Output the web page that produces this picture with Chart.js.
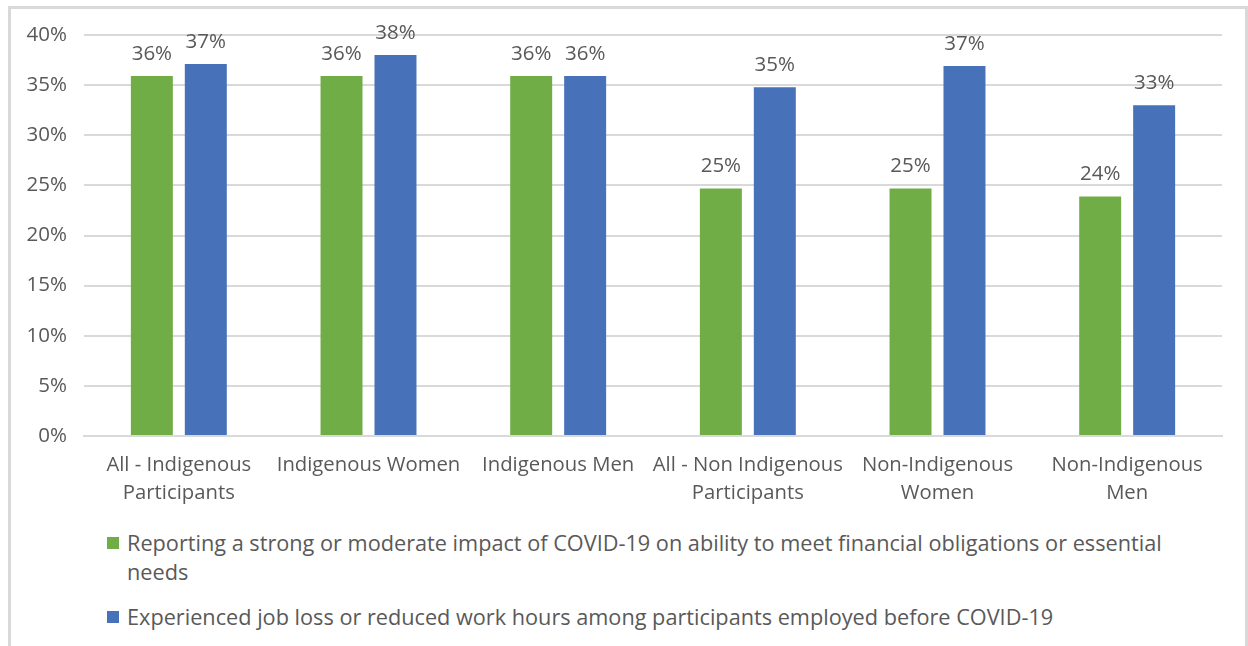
<!DOCTYPE html>
<html lang="en">
<head>
  <meta charset="UTF-8" />
  <title>COVID-19 impact by group</title>
  <script src="https://cdn.jsdelivr.net/npm/chart.js"></script>
  <style>
    body{margin:0;background:#fff;font-family:"Open Sans",sans-serif;overflow:hidden}
    .frame{position:absolute;left:8px;top:6px;width:1234px;height:700px;border:3px solid #d9d9d9;border-bottom:none}
    .wrap{position:absolute;left:0;top:0;width:1248px;height:520px}
    .legend{position:absolute;left:107px;top:528px;width:1120px;color:#595959;font-size:21.7px;line-height:29px}
    .legend div{position:relative;padding-left:20px;margin-bottom:16px}
    .legend span.box{position:absolute;left:0;top:9px;width:12px;height:12px}
  </style>
</head>
<body>
  <div class="frame"></div>
  <div class="wrap"><canvas id="c"></canvas></div>
  <div class="legend" id="legend"></div>

  <script>
  const categories=[['All - Indigenous','Participants'],'Indigenous Women','Indigenous Men',
    ['All - Non Indigenous','Participants'],['Non-Indigenous','Women'],['Non-Indigenous','Men']];
  const financialImpact=[35.9,35.9,35.9,24.7,24.7,23.9];
  const jobLoss=[37.1,38.0,35.9,34.8,36.9,33.0];
  const seriesNames=['Reporting a strong or moderate impact of COVID-19 on ability to meet financial obligations or essential\nneeds',
    'Experienced job loss or reduced work hours among participants employed before COVID-19'];
  const yTicks=[0,5,10,15,20,25,30,35,40];

  const green='#70ad47', blue='#4771b8', txt='#595959', grid='#d9d9d9';

  // labels above each bar, rounded to whole percent
  const barLabels={
    id:'barLabels',
    afterDatasetsDraw(chart){
      const ctx=chart.ctx;
      ctx.save();
      ctx.font='20.5px "Open Sans"';
      ctx.fillStyle=txt;
      ctx.textAlign='center';
      ctx.textBaseline='alphabetic';
      chart.data.datasets.forEach((ds,i)=>{
        chart.getDatasetMeta(i).data.forEach((bar,j)=>{
          ctx.fillText(Math.round(ds.data[j])+'%',bar.x,bar.y-16);
        });
      });
      ctx.restore();
    }
  };

  new Chart(document.getElementById('c'),{
    type:'bar',
    data:{
      labels:categories,
      datasets:[
        {label:seriesNames[0],data:financialImpact,backgroundColor:green},
        {label:seriesNames[1],data:jobLoss,backgroundColor:blue}
      ]
    },
    options:{
      responsive:true,maintainAspectRatio:false,animation:false,
      layout:{padding:{top:35,right:26,left:0,bottom:0}},
      datasets:{bar:{categoryPercentage:0.569,barPercentage:0.778}},
      plugins:{legend:{display:false},tooltip:{enabled:false}},
      scales:{
        x:{
          afterFit(s){s.height=84;},
          grid:{display:false,drawTicks:false},
          border:{color:grid,width:2},
          ticks:{color:txt,font:{family:'Open Sans',size:20.3,lineHeight:1.38},padding:15,maxRotation:0,autoSkip:false}
        },
        y:{
          min:0,max:40,
          afterFit(s){s.width=84;},
          afterBuildTicks(s){s.ticks=yTicks.map(v=>({value:v}));},
          grid:{color:grid,lineWidth:2,drawTicks:false},
          border:{display:false},
          ticks:{color:txt,font:{family:'Open Sans',size:20.5},padding:17,callback:v=>v+'%'}
        }
      }
    },
    plugins:[barLabels]
  });

  const lg=document.getElementById('legend');
  [green,blue].forEach((col,i)=>{
    const d=document.createElement('div');
    const b=document.createElement('span');
    b.className='box';b.style.background=col;
    d.appendChild(b);
    seriesNames[i].split('\n').forEach((t,k)=>{
      if(k) d.appendChild(document.createElement('br'));
      d.appendChild(document.createTextNode(t));
    });
    lg.appendChild(d);
  });
  </script>
</body>
</html>
